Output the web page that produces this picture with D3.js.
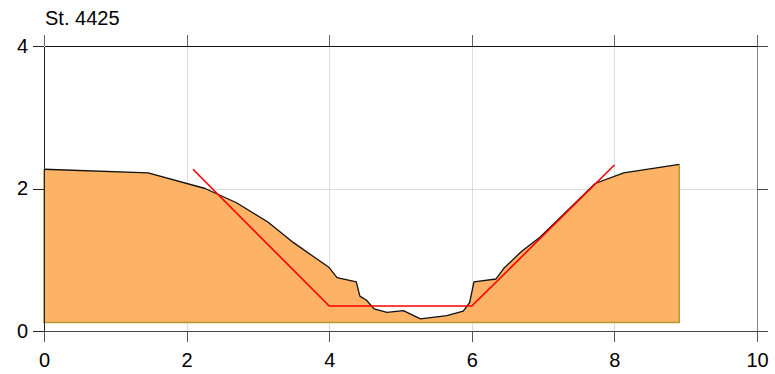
<!DOCTYPE html>
<html>
<head>
<meta charset="utf-8">
<script src="https://cdn.jsdelivr.net/npm/d3@7"></script>
<style>
  body { margin: 0; background: #fff; }
  svg { display: block; font-family: "Liberation Sans", Arial, sans-serif; }
  .axis path, .axis line { shape-rendering: crispEdges; }
</style>
</head>
<body>
<div id="chart"></div>
<script>
var title = "St. 4425"

// measured cross-section profile (distance, elevation)
var profileX = [0, 1.46, 2.26, 2.70, 3.14, 3.50, 4.00, 4.11, 4.38, 4.43, 4.52, 4.63, 4.81, 5.04, 5.28, 5.65, 5.88, 5.97, 6.03, 6.34, 6.45, 6.70, 6.96, 7.73, 8.13, 8.91]
var profileY = [2.27, 2.22, 2.00, 1.80, 1.53, 1.24, 0.89, 0.75, 0.69, 0.49, 0.435, 0.31, 0.26, 0.285, 0.17, 0.215, 0.28, 0.40, 0.69, 0.73, 0.88, 1.12, 1.32, 2.07, 2.22, 2.34]
var baseLevel = 0.12

// design trapezoid section
var designX = [2.09, 4.0, 6.0, 8.0]
var designY = [2.27, 0.35, 0.35, 2.33]

var xTicks = [0, 2, 4, 6, 8, 10]
var yTicks = [0, 2, 4]

var margin = {top: 46, right: 18, bottom: 43, left: 44},
    width  = 775 - margin.left - margin.right,
    height = 374 - margin.top - margin.bottom

var svg = d3.select("#chart").append("svg")
  .attr("width", 775)
  .attr("height", 374)

var g = svg.append("g")
  .attr("transform", "translate(" + margin.left + "," + margin.top + ")")

var x = d3.scaleLinear().domain([0, 10]).range([0, width])
var y = d3.scaleLinear().domain([0, 4]).range([height, 0])

// grid
g.append("g").selectAll("line")
  .data(xTicks.filter(d => d > 0 && d < 10))
  .join("line")
  .attr("x1", d => Math.round(x(d)) + 0.5).attr("x2", d => Math.round(x(d)) + 0.5)
  .attr("y1", 0).attr("y2", height)
  .attr("stroke", "#dcdcdc")

g.append("g").selectAll("line")
  .data(yTicks.filter(d => d > 0 && d < 4))
  .join("line")
  .attr("y1", d => Math.round(y(d)) + 0.5).attr("y2", d => Math.round(y(d)) + 0.5)
  .attr("x1", 0).attr("x2", width)
  .attr("stroke", "#dcdcdc")

var profile = profileX.map((px, i) => ({x: px, y: profileY[i]}))
var design = designX.map((dx, i) => ({x: dx, y: designY[i]}))

var area = d3.area()
  .x(d => x(d.x))
  .y0(y(baseLevel))
  .y1(d => y(d.y))

g.append("path")
  .datum(profile)
  .attr("fill", "#fdb265")
  .attr("d", area)

// olive outline of base and sides
var first = profile[0], last = profile[profile.length - 1]
g.append("path")
  .datum([first, {x: first.x, y: baseLevel}, {x: last.x, y: baseLevel}, last])
  .attr("fill", "none")
  .attr("stroke", "#b39b2e")
  .attr("stroke-width", 1.5)
  .attr("d", d3.line().x(d => x(d.x)).y(d => y(d.y)))

g.append("path")
  .datum(profile)
  .attr("fill", "none")
  .attr("stroke", "#111")
  .attr("stroke-width", 1.3)
  .attr("stroke-linejoin", "round")
  .attr("d", d3.line().x(d => x(d.x)).y(d => y(d.y)))

g.append("path")
  .datum(design)
  .attr("fill", "none")
  .attr("stroke", "#ff0000")
  .attr("stroke-width", 1.6)
  .attr("d", d3.line().x(d => x(d.x)).y(d => y(d.y)))

// axes
function styleAxis(sel, col, tickCol) {
  sel.selectAll("path").attr("stroke", col).attr("stroke-width", 1.5)
  sel.selectAll("line").attr("stroke", tickCol).attr("stroke-width", 1)
  sel.selectAll("text").attr("fill", "#000").attr("font-size", 20)
}

g.append("g")
  .attr("class", "axis")
  .attr("transform", "translate(0," + height + ")")
  .call(d3.axisBottom(x).tickValues(xTicks).tickSize(11).tickSizeOuter(0).tickPadding(11).tickFormat(d3.format("d")))
  .call(s => styleAxis(s, "#444", "#555"))

g.append("g")
  .attr("class", "axis")
  .call(d3.axisTop(x).tickValues(xTicks).tickSize(11).tickSizeOuter(0).tickFormat(""))
  .call(s => styleAxis(s, "#111", "#666"))

g.append("g")
  .attr("class", "axis")
  .attr("transform", "translate(" + width + ",0)")
  .call(d3.axisRight(y).tickValues(yTicks).tickSize(11).tickSizeOuter(0).tickFormat(""))
  .call(s => styleAxis(s, "#888", "#444"))

g.append("g")
  .attr("class", "axis")
  .call(d3.axisLeft(y).tickValues(yTicks).tickSize(11).tickSizeOuter(0).tickPadding(5).tickFormat(d3.format("d")))
  .call(s => styleAxis(s, "#222", "#222"))

svg.append("text")
  .attr("x", 45)
  .attr("y", 25)
  .attr("font-size", 20)
  .attr("fill", "#000")
  .text(title)
</script>
</body>
</html>
